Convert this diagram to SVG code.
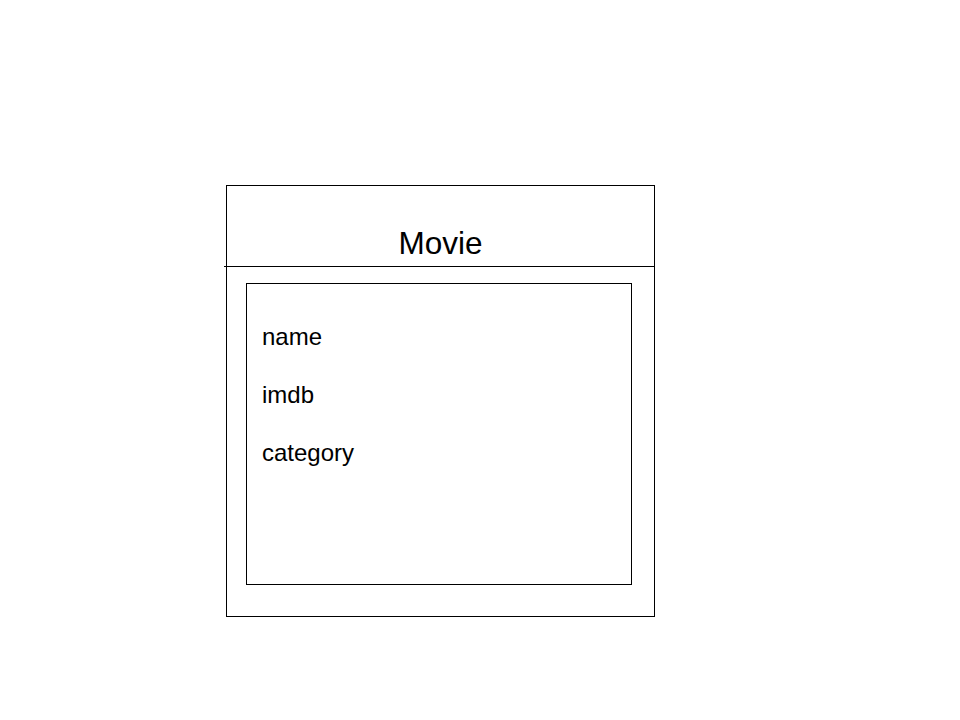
<svg xmlns="http://www.w3.org/2000/svg" width="960" height="720" viewBox="0 0 960 720">
<style>
.box{fill:#fff;stroke:#000;stroke-width:1}
.ln{stroke:#000;stroke-width:1.2;fill:none}
.t{font-family:"Liberation Sans",Arial,sans-serif;fill:#000}
</style>
<rect width="960" height="720" fill="#fff"/>
<g id="movie">
<rect class="box" x="226.5" y="185.5" width="428" height="431"/>
<line class="ln" x1="224" y1="266.5" x2="654.5" y2="266.5"/>
<text class="t" x="440.5" y="254" font-size="31.5" text-anchor="middle">Movie</text>
</g>
<g id="fields">
<rect class="box" x="246.5" y="283.5" width="385" height="301"/>
<text class="t" x="262" y="345" font-size="24">name</text>
<text class="t" x="262" y="403" font-size="24">imdb</text>
<text class="t" x="262" y="461" font-size="24">category</text>
</g>
<g id="connectors"/>
</svg>
